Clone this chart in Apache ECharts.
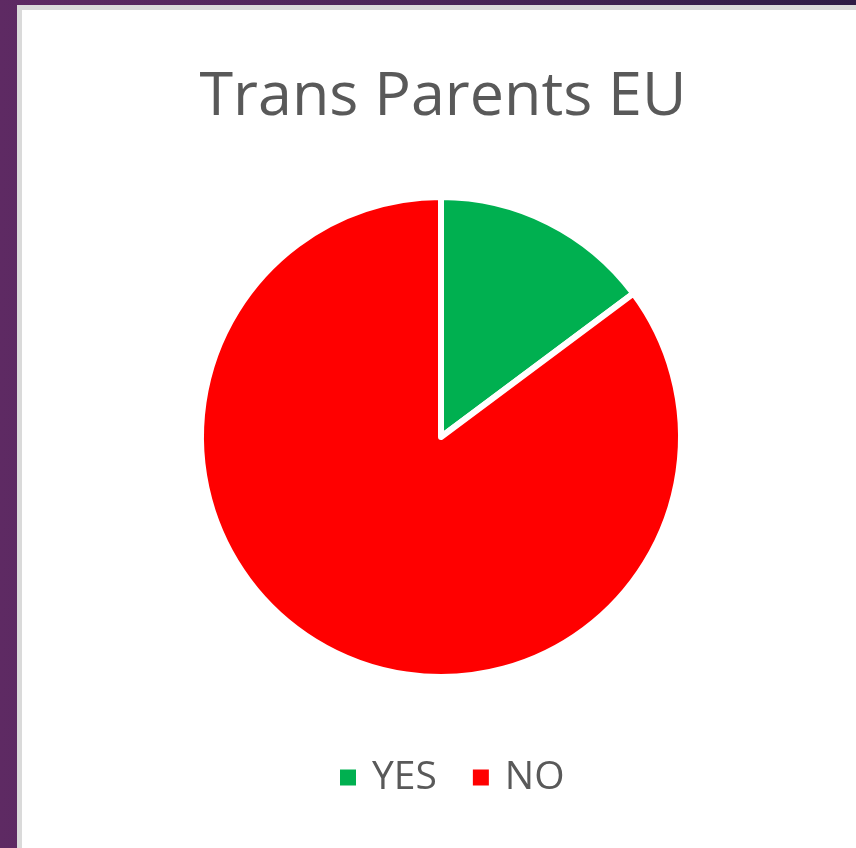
<!DOCTYPE html>
<html>
<head>
<meta charset="utf-8">
<script src="https://cdn.jsdelivr.net/npm/echarts@6/dist/echarts.min.js"></script>
<style>
    html, body {
        margin: 0;
        padding: 0;
        width: 856px;
        height: 848px;
        overflow: hidden;
        background: linear-gradient(to right, #5e2a63, #4a2558 50%, #2e1c45);
    }
    #panel {
        position: absolute;
        left: 17px;
        top: 5px;
        width: 834px;
        height: 838px;
        background: #ffffff;
        border-left: 5px solid #dadada;
        border-top: 5px solid #dadada;
    }
    #chart {
        position: absolute;
        left: 0;
        top: 0;
        width: 856px;
        height: 848px;
    }
</style>
</head>
<body>
<div id="panel"></div>
<div id="chart"></div>
<script>
// pie data
var categories = ['YES', 'NO'];
var values = [14.8, 85.2];
var colors = ['#00b050', '#ff0000'];

var chartDom = document.getElementById('chart');
var myChart = echarts.init(chartDom, null, { renderer: 'canvas' });

var pieData = [];
for (var i = 0; i < categories.length; i++) {
    pieData.push({
        name: categories[i],
        value: values[i],
        itemStyle: { color: colors[i] }
    });
}

var option = {
    backgroundColor: 'transparent',
    animation: false,
    title: {
        text: 'Trans Parents EU',
        left: 438,
        top: 62,
        textAlign: 'center',
        textStyle: {
            fontFamily: 'Open Sans',
            fontSize: 61,
            fontWeight: 'normal',
            color: '#595959'
        }
    },
    legend: {
        data: categories,
        left: 333,
        top: 753,
        icon: 'rect',
        itemWidth: 18,
        itemHeight: 18,
        itemGap: 34,
        textStyle: {
            fontFamily: 'Open Sans',
            fontSize: 39,
            color: '#595959',
            padding: [0, 0, 0, 10]
        }
    },
    series: [{
        type: 'pie',
        center: [441, 437],
        radius: [0, 240],
        startAngle: 90,
        clockwise: true,
        label: { show: false },
        labelLine: { show: false },
        emphasis: { disabled: true },
        itemStyle: {
            borderColor: '#ffffff',
            borderWidth: 6
        },
        data: pieData
    }]
};

option && myChart.setOption(option);
</script>
</body>
</html>
